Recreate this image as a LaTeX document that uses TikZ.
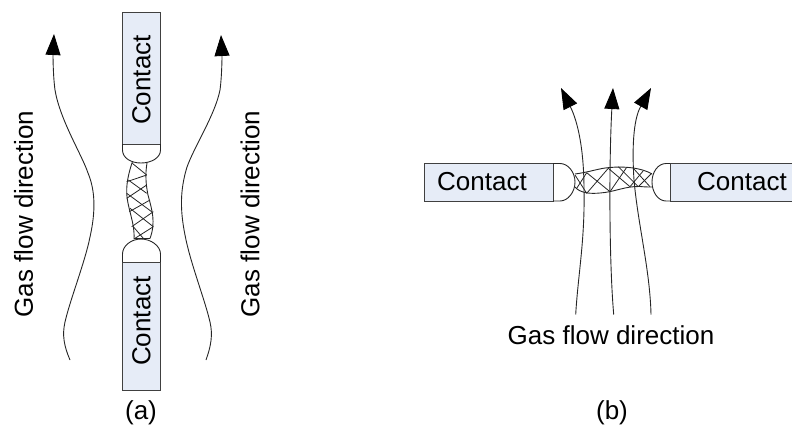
\documentclass[tikz,border=0pt]{standalone}
\usepackage{fontspec}
\setmainfont{Liberation Sans}
\usetikzlibrary{arrows.meta}
\definecolor{boxfill}{HTML}{E6ECF7}
\tikzset{
  x=1bp,y=-1bp,
  contactbox/.style={draw=black!75,fill=boxfill,line width=0.9bp,minimum width=129bp,minimum height=38bp,inner sep=0pt},
  lbl/.style={inner sep=0pt,font=\fontsize{26bp}{28bp}\selectfont},
  flow/.style={line width=0.9bp,black!85,-{Triangle[length=21bp,width=15bp,color=black]}},
  wire/.style={line width=0.9bp,black!85},
  mesh/.style={line width=0.8bp,black!85}
}
\begin{document}
\begin{tikzpicture}
\useasboundingbox (0,0) rectangle (792,428);
% (a)
\node[contactbox,rotate=90,minimum width=132bp] (ct) at (141.5,78) {};
\node[contactbox,rotate=90,minimum width=128bp] (cb) at (141.5,326) {};
\draw[wire] (122.5,144) -- (122.5,150) .. controls (122.5,158) and (131,163) .. (141,163) .. controls (151,163) and (160.5,158) .. (160.5,150) -- (160.5,144);
\draw[wire] (122.5,262) -- (122.5,254) .. controls (122.5,246) and (131,239) .. (141,239) .. controls (151,239) and (160.5,246) .. (160.5,254) -- (160.5,262);
\draw[wire] (132.3,162) .. controls (129,172) and (126.5,182) .. (126.7,192) .. controls (127,208) and (135,222) .. (134,239);
\draw[wire] (147,163) .. controls (145,175) and (146,185) .. (148,195) .. controls (152,210) and (156,222) .. (150,238.5);
\draw[mesh] (132.3,163.3) -- (146.7,175) (128.3,180) -- (146.7,193.3) (126.7,193.3) -- (151.7,211.7) (130,208.3) -- (153.3,226.7) (133.3,226.7) -- (143.3,238.3);
\draw[mesh] (146.7,175) -- (126.7,181.7) (146.7,185) -- (126.7,198.3) (150,200) -- (129.3,211.7) (153.3,211.7) -- (131.7,226.7) (153.3,226.7) -- (135,238.3);
\draw[mesh] (134,238.5) -- (150,238.5);
% (b)
\node[contactbox] (cl) at (488.5,182) {};
\node[contactbox,minimum width=122bp] (cr) at (731,182) {};
\draw[wire] (553,163.5) -- (560,163.5) .. controls (568,163.5) and (575,172) .. (575,182) .. controls (575,192) and (568,201) .. (560,201) -- (553,201);
\draw[wire] (670,163.5) -- (666,163.5) .. controls (658,163.5) and (652,172) .. (652,182) .. controls (652,192) and (658,201) .. (666,201) -- (670,201);
\draw[wire] (575,174) .. controls (590,172) and (600,168) .. (610,167.5) .. controls (625,166) and (642,168) .. (652,174);
\draw[wire] (575,187) .. controls (580,193) and (590,194) .. (600,193) .. controls (615,192) and (625,186) .. (640,186.5) .. controls (645,187) and (650,187) .. (652,187);
\draw[mesh] (575,175) -- (586.7,193.3) (586.7,172.7) -- (610,191.7) (608.3,168.3) -- (630,186.7) (618.3,166.7) -- (638.3,186.7) (633.3,168.3) -- (650,186.7);
\draw[mesh] (586.7,172.7) -- (576.7,188.3) (608.3,168.3) -- (586.7,193.3) (626.7,167.3) -- (610,191.7) (643.3,170.7) -- (630,186.7) (651.7,173.3) -- (638.3,186.7);
% flows
\coordinate (f1s) at (70,360); \coordinate (f1e) at (54,34);
\draw[flow] (f1s) .. controls (64,346) and (62,335) .. (65,322) .. controls (70,300) and (85,262) .. (90,237) .. controls (96,210) and (95,190) .. (88,173) .. controls (82,155) and (60,120) .. (55,90) .. controls (53,75) and (53,55) .. (f1e);
\coordinate (f2s) at (206,360); \coordinate (f2e) at (221,35);
\draw[flow] (f2s) .. controls (211,346) and (213,335) .. (210,322) .. controls (205,300) and (190,262) .. (185,235) .. controls (180,210) and (180,190) .. (187,167) .. controls (195,145) and (215,115) .. (220,90) .. controls (222,75) and (222,55) .. (f2e);
\coordinate (f3s) at (575.7,314.5); \coordinate (f3e) at (561,88);
\draw[flow] (f3s) .. controls (578,275) and (585,240) .. (584,190) .. controls (584,150) and (578,122) .. (f3e);
\coordinate (f4s) at (613.7,314.5); \coordinate (f4e) at (613,88);
\draw[flow] (f4s) .. controls (609,260) and (609,160) .. (f4e);
\coordinate (f5s) at (651,314.5); \coordinate (f5e) at (651,88);
\draw[flow] (f5s) .. controls (650,270) and (638,225) .. (634,180) .. controls (632,150) and (633,120) .. (f5e);
% labels
\node[lbl,rotate=90] (t1) at (141.5,80) {Contact};
\node[lbl,rotate=90] (t2) at (141.5,321) {Contact};
\node[lbl] (t3) at (482,182) {Contact};
\node[lbl] (t4) at (742,182) {Contact};
\node[lbl,rotate=90] (g1) at (23.5,214) {Gas flow direction};
\node[lbl,rotate=90] (g2) at (250,214) {Gas flow direction};
\node[lbl] (g3) at (611,335) {Gas flow direction};
\node[lbl] (a) at (141,413) {(a)};
\node[lbl] (b) at (612,413) {(b)};
\end{tikzpicture}
\end{document}
